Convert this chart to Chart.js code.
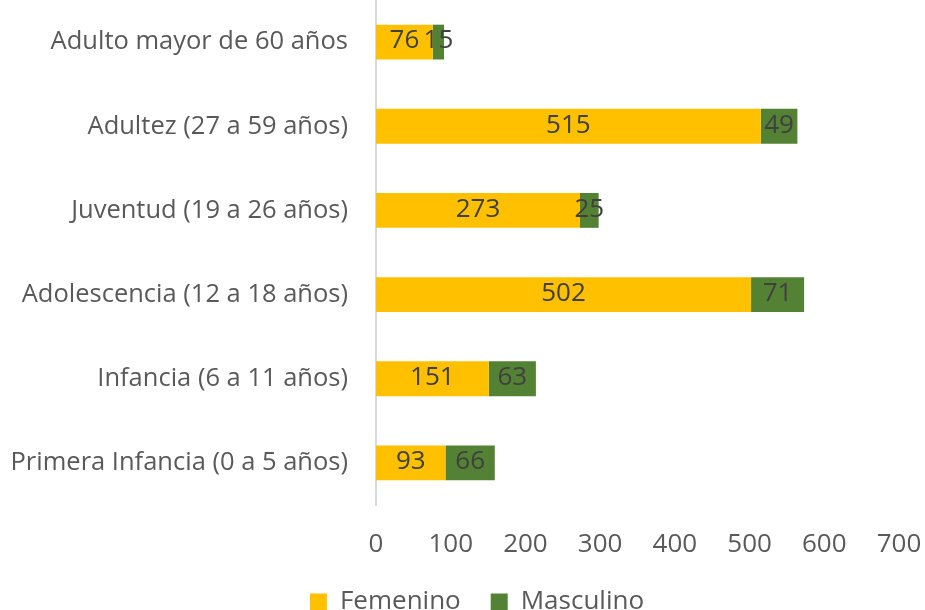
<!DOCTYPE html>
<html lang="es">
<head>
    <meta charset="UTF-8">
    <title>Grupos de edad por sexo</title>
    <script src="https://cdn.jsdelivr.net/npm/chart.js"></script>
    <style>
        body { margin: 0; overflow: hidden; background: #fff; }
        .wrap { width: 925px; height: 640px; }
    </style>
</head>
<body>
    <div class="wrap">
        <canvas id="edadChart"></canvas>
    </div>

    <script>
        const categorias = [
            'Adulto mayor de 60 años',
            'Adultez (27 a 59 años)',
            'Juventud (19 a 26 años)',
            'Adolescencia (12 a 18 años)',
            'Infancia (6 a 11 años)',
            'Primera Infancia (0 a 5 años)'
        ];
        const femenino = [76, 515, 273, 502, 151, 93];
        const masculino = [15, 49, 25, 71, 63, 66];
        const ticksX = [0, 100, 200, 300, 400, 500, 600, 700];

        const fuente = '"Open Sans", "Liberation Sans", sans-serif';

        // etiquetas de valor centradas en cada segmento
        const etiquetas = {
            id: 'etiquetas',
            afterDatasetsDraw(chart) {
                const ctx = chart.ctx;
                ctx.save();
                ctx.font = '26px ' + fuente;
                ctx.fillStyle = '#404040';
                ctx.textAlign = 'center';
                ctx.textBaseline = 'middle';
                chart.data.datasets.forEach((ds, i) => {
                    chart.getDatasetMeta(i).data.forEach((bar, j) => {
                        const x = (bar.x + bar.base) / 2;
                        ctx.fillText(ds.data[j], x, bar.y - 1);
                    });
                });
                ctx.restore();
            }
        };

        // la leyenda va un poco a la derecha y más arriba, como en el original
        const moverLeyenda = {
            id: 'moverLeyenda',
            afterLayout(chart) {
                const lg = chart.legend;
                if (!lg) return;
                const d = 477 - (lg.left + lg.right) / 2;
                lg.left += d; lg.right += d;
                lg.top -= 15; lg.bottom -= 15;
            }
        };

        const ctx = document.getElementById('edadChart').getContext('2d');
        new Chart(ctx, {
            type: 'bar',
            data: {
                labels: categorias,
                datasets: [
                    { label: 'Femenino', data: femenino, backgroundColor: '#FFC000' },
                    { label: 'Masculino', data: masculino, backgroundColor: '#548235' }
                ]
            },
            options: {
                indexAxis: 'y',
                responsive: true,
                maintainAspectRatio: false,
                animation: false,
                categoryPercentage: 0.414,
                barPercentage: 1,
                layout: { padding: { top: -3, right: 26, left: 0, bottom: 0 } },
                scales: {
                    x: {
                        stacked: true,
                        min: 0,
                        max: 700,
                        afterBuildTicks: s => { s.ticks = ticksX.map(v => ({ value: v })); },
                        grid: { display: false, drawTicks: false },
                        border: { display: false },
                        ticks: { color: '#595959', font: { family: fuente, size: 26 }, padding: 24 },
                        afterFit: s => { s.height = 69; s.paddingLeft = 0; s.paddingRight = 0; }
                    },
                    y: {
                        stacked: true,
                        grid: { display: false, drawTicks: false },
                        border: { color: '#d9d9d9', width: 2 },
                        ticks: { color: '#595959', font: { family: fuente, size: 25.5 }, padding: 28 },
                        afterFit: s => { s.width = 376; s.paddingTop = 0; s.paddingBottom = 0; }
                    }
                },
                plugins: {
                    legend: {
                        position: 'bottom',
                        labels: {
                            color: '#595959',
                            font: { family: fuente, size: 26 },
                            boxWidth: 17,
                            boxHeight: 17,
                            padding: 30
                        }
                    },
                    tooltip: { enabled: false }
                }
            },
            plugins: [etiquetas, moverLeyenda]
        });
    </script>
</body>
</html>
